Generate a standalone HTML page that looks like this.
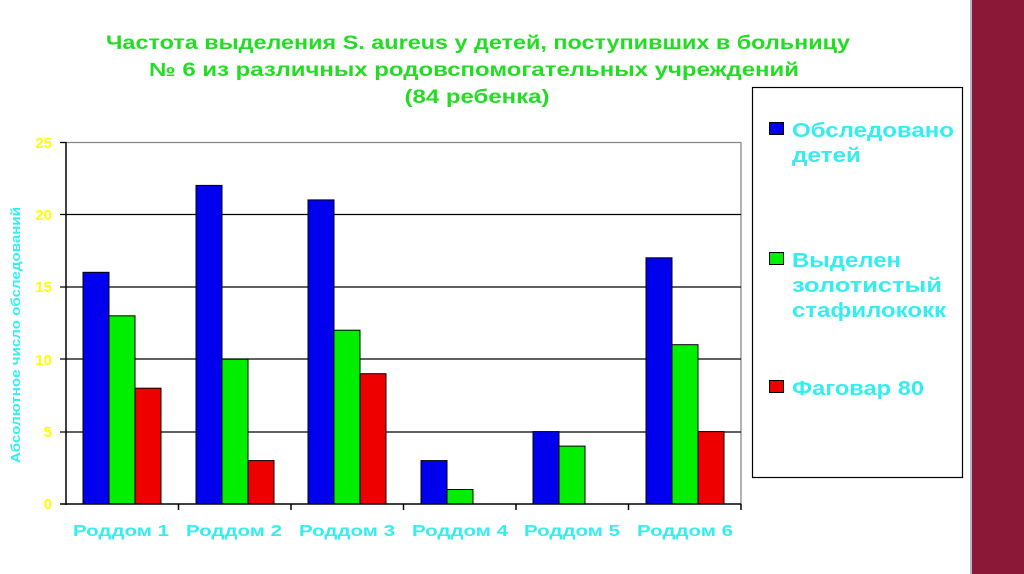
<!DOCTYPE html>
<html><head><meta charset="utf-8"><style>
body{margin:0;width:1024px;height:574px;overflow:hidden;background:#fff}
svg{display:block;font-family:"Liberation Sans",sans-serif;font-weight:bold}
</style></head><body>
<svg width="1024" height="574" viewBox="0 0 1024 574">
<rect x="972" y="0" width="52" height="574" fill="#8C1838"/>
<line x1="971" y1="0" x2="971" y2="574" stroke="#9aa0c0" stroke-width="1.5"/>
<g fill="#22DD22" font-size="19" text-anchor="middle">
<text x="478" y="49" textLength="744" lengthAdjust="spacingAndGlyphs">Частота выделения S. aureus у детей, поступивших в больницу</text>
<text x="474" y="76" textLength="650" lengthAdjust="spacingAndGlyphs">№ 6 из различных родовспомогательных учреждений</text>
<text x="477" y="103" textLength="145" lengthAdjust="spacingAndGlyphs">(84 ребенка)</text>
</g>
<g stroke="#000" stroke-width="1.3">
<line x1="66" y1="142.5" x2="741" y2="142.5" stroke="#888"/>
<line x1="741" y1="142" x2="741" y2="504" stroke="#888"/>
<line x1="60" y1="214.5" x2="741" y2="214.5"/>
<line x1="60" y1="287" x2="741" y2="287"/>
<line x1="60" y1="359" x2="741" y2="359"/>
<line x1="60" y1="432" x2="741" y2="432"/>
<line x1="60" y1="142.5" x2="66" y2="142.5"/>
</g>
<g stroke="#000" stroke-width="1">
<rect x="83" y="272.3" width="26" height="231.7" fill="#0000EE"/>
<rect x="109" y="315.8" width="26" height="188.2" fill="#00EE00"/>
<rect x="135" y="388.2" width="26" height="115.8" fill="#EE0000"/>
<rect x="196" y="185.4" width="26" height="318.6" fill="#0000EE"/>
<rect x="222" y="359.2" width="26" height="144.8" fill="#00EE00"/>
<rect x="248" y="460.6" width="26" height="43.4" fill="#EE0000"/>
<rect x="308" y="199.9" width="26" height="304.1" fill="#0000EE"/>
<rect x="334" y="330.2" width="26" height="173.8" fill="#00EE00"/>
<rect x="360" y="373.7" width="26" height="130.3" fill="#EE0000"/>
<rect x="421" y="460.6" width="26" height="43.4" fill="#0000EE"/>
<rect x="447" y="489.5" width="26" height="14.5" fill="#00EE00"/>
<rect x="533" y="431.6" width="26" height="72.4" fill="#0000EE"/>
<rect x="559" y="446.1" width="26" height="57.9" fill="#00EE00"/>
<rect x="646" y="257.8" width="26" height="246.2" fill="#0000EE"/>
<rect x="672" y="344.7" width="26" height="159.3" fill="#00EE00"/>
<rect x="698" y="431.6" width="26" height="72.4" fill="#EE0000"/>
</g>
<g stroke="#000" stroke-width="1.5">
<line x1="66" y1="142" x2="66" y2="505"/>
<line x1="60" y1="504" x2="741" y2="504"/>
<line x1="178.5" y1="504" x2="178.5" y2="510"/>
<line x1="291" y1="504" x2="291" y2="510"/>
<line x1="403.5" y1="504" x2="403.5" y2="510"/>
<line x1="516" y1="504" x2="516" y2="510"/>
<line x1="628.5" y1="504" x2="628.5" y2="510"/>
<line x1="741" y1="504" x2="741" y2="510"/>
</g>
<g fill="#FFFF00" font-size="15" text-anchor="end">
<text x="52" y="148">25</text><text x="52" y="220">20</text><text x="52" y="292">15</text>
<text x="52" y="365">10</text><text x="52" y="437">5</text><text x="52" y="509">0</text>
</g>
<text transform="translate(20,335) rotate(-90)" fill="#33EEEE" font-size="13" text-anchor="middle" textLength="256" lengthAdjust="spacingAndGlyphs">Абсолютное число обследований</text>
<g fill="#33EEEE" font-size="16" text-anchor="middle">
<text x="121" y="536" textLength="96" lengthAdjust="spacingAndGlyphs">Роддом 1</text><text x="234" y="536" textLength="96" lengthAdjust="spacingAndGlyphs">Роддом 2</text><text x="347" y="536" textLength="96" lengthAdjust="spacingAndGlyphs">Роддом 3</text>
<text x="460" y="536" textLength="96" lengthAdjust="spacingAndGlyphs">Роддом 4</text><text x="572" y="536" textLength="96" lengthAdjust="spacingAndGlyphs">Роддом 5</text><text x="685" y="536" textLength="96" lengthAdjust="spacingAndGlyphs">Роддом 6</text>
</g>
<rect x="752.5" y="87.5" width="210" height="390" fill="none" stroke="#000" stroke-width="1.2"/>
<g stroke="#000" stroke-width="1">
<rect x="769.5" y="122.5" width="14" height="12" fill="#0000EE"/>
<rect x="769.5" y="252.5" width="14" height="12" fill="#00EE00"/>
<rect x="769.5" y="380.5" width="14" height="12" fill="#EE0000"/>
</g>
<g fill="#33EEEE" font-size="20">
<text x="792" y="137" textLength="162" lengthAdjust="spacingAndGlyphs">Обследовано</text><text x="792" y="162" textLength="69" lengthAdjust="spacingAndGlyphs">детей</text>
<text x="792" y="267" textLength="109" lengthAdjust="spacingAndGlyphs">Выделен</text><text x="792" y="292" textLength="150" lengthAdjust="spacingAndGlyphs">золотистый</text><text x="792" y="317" textLength="154" lengthAdjust="spacingAndGlyphs">стафилококк</text>
<text x="792" y="395" textLength="132" lengthAdjust="spacingAndGlyphs">Фаговар 80</text>
</g>
</svg>
</body></html>
